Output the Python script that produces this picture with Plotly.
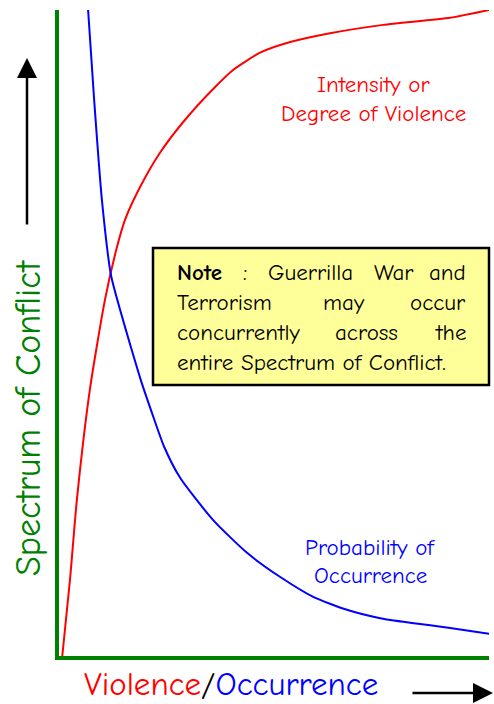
import plotly.graph_objects as go

# ---- data (axis units 0-100) ----
intensity_x = [1.2, 3.0, 4.6, 7.6, 11.1, 13.7, 15.7, 19.2, 23.8, 29.6, 36.6, 40.7, 47.0, 53.2, 63.2, 75.5, 91.0, 100.0]
intensity_y = [0.0, 11.9, 24.3, 41.3, 55.2, 62.9, 67.5, 72.6, 77.9, 83.0, 88.1, 90.7, 93.4, 94.9, 96.4, 97.7, 98.8, 100.0]

probability_x = [7.2, 8.6, 10.4, 12.5, 14.8, 17.1, 19.4, 22.0, 24.8, 28.5, 36.1, 44.0, 51.6, 59.3, 67.1, 74.8, 81.7, 91.0, 100.0]
probability_y = [100.0, 86.1, 70.6, 59.0, 53.2, 47.9, 42.8, 37.7, 32.5, 27.7, 21.2, 16.1, 12.4, 9.3, 7.3, 6.0, 5.3, 4.5, 3.6]

intensity_label = ["Intensity or", "Degree of Violence"]
probability_label = ["Probability of", "Occurrence"]
y_title = "Spectrum of Conflict"
note_lines = [
    ["<b>Note</b>", ":", "Guerrilla", "War", "and"],
    ["Terrorism", "may", "occur"],
    ["concurrently", "across", "the"],
    ["entire Spectrum of Conflict."],
]

W, H = 494, 704
PLOT_L, PLOT_R, PLOT_T, PLOT_B = 57, 489, 10, 657   # pixels of the plot area
L, R, T, B = PLOT_L, W - PLOT_R, PLOT_T, H - PLOT_B
PW, PH = PLOT_R - PLOT_L, PLOT_B - PLOT_T

FONT = "Comic Sans MS, Comic Neue, Noto Sans, sans-serif"
GREEN = "#008000"


def px(x):
    return (x - PLOT_L) / PW


def py(y):
    return (PLOT_B - y) / PH


def base(y, size):
    # bottom of the text box for a given baseline
    return py(y + 0.33 * size)


fig = go.Figure()
fig.add_trace(go.Scatter(x=intensity_x, y=intensity_y, mode="lines",
                         line=dict(color="#FF0000", width=2, shape="spline", smoothing=0.6),
                         hoverinfo="skip", cliponaxis=False))
fig.add_trace(go.Scatter(x=probability_x, y=probability_y, mode="lines",
                         line=dict(color="#0000FF", width=2, shape="spline", smoothing=0.6),
                         hoverinfo="skip", cliponaxis=False))

ann = []
LBL = 23
for t, bl in zip(intensity_label, [92, 121]):
    ann.append(dict(x=px(373), y=base(bl, LBL), xref="paper", yref="paper", text=t,
                    showarrow=False, xanchor="center", yanchor="bottom",
                    font=dict(family=FONT, size=LBL, color="#FF0000")))
for t, bl in zip(probability_label, [555, 583]):
    ann.append(dict(x=px(370), y=base(bl, LBL), xref="paper", yref="paper", text=t,
                    showarrow=False, xanchor="center", yanchor="bottom",
                    font=dict(family=FONT, size=LBL, color="#0000FF")))

# axis titles
ann.append(dict(x=px(29), y=py(418), xref="paper", yref="paper", text=y_title,
                showarrow=False, textangle=-90, xanchor="center", yanchor="middle",
                font=dict(family=FONT, size=36, color=GREEN)))
XT = 33
ann.append(dict(x=px(83), y=py(704), xref="paper", yref="paper",
                text='<span style="color:#FF0000">Violence</span>'
                     '<span style="color:#000000">/</span>'
                     '<span style="color:#0000FF">Occurrence</span>',
                showarrow=False, xanchor="left", yanchor="bottom", borderpad=0,
                font=dict(family=FONT, size=XT, color="#000000")))

# arrows
ann.append(dict(x=px(27), y=py(58), xref="paper", yref="paper", text="",
                showarrow=True, ax=0, ay=168, arrowhead=2, arrowsize=1.6,
                arrowwidth=2.5, arrowcolor="#000000"))
ann.append(dict(x=px(493), y=py(693), xref="paper", yref="paper", text="",
                showarrow=True, ax=-82, ay=0, arrowhead=2, arrowsize=1.6,
                arrowwidth=2.5, arrowcolor="#000000"))

# note text (justified by hand)
NT = 23
note_font = dict(family=FONT, size=NT, color="#000000")
line_pos = [
    [(175, "left"), (245, "center"), (310, "center"), (394, "center"), (468, "right")],
    [(175, "left"), (344, "center"), (468, "right")],
    [(175, "left"), (366, "center"), (468, "right")],
    [(175, "left")],
]
for li, (words, pos) in enumerate(zip(note_lines, line_pos)):
    bl = 280 + 30 * li
    for w, (xp, anc) in zip(words, pos):
        ann.append(dict(x=px(xp), y=base(bl, NT), xref="paper", yref="paper", text=w,
                        showarrow=False, xanchor=anc, yanchor="bottom", font=note_font))

shapes = [
    dict(type="rect", xref="paper", yref="paper", x0=px(153), x1=px(489), y0=py(385), y1=py(248),
         fillcolor="#FFFF99", line=dict(color="#000000", width=2.5), layer="below"),
    # green axes
    dict(type="line", xref="paper", yref="paper", x0=px(57), x1=px(57), y0=py(660), y1=py(10),
         line=dict(color=GREEN, width=4), layer="above"),
    dict(type="line", xref="paper", yref="paper", x0=px(55), x1=px(489), y0=py(658), y1=py(658),
         line=dict(color=GREEN, width=4), layer="above"),
]

fig.update_layout(
    width=W, height=H,
    margin=dict(l=L, r=R, t=T, b=B),
    paper_bgcolor="white", plot_bgcolor="white",
    showlegend=False,
    annotations=ann, shapes=shapes,
    xaxis=dict(range=[0, 100], showgrid=False, zeroline=False, showticklabels=False,
               ticks="", showline=False, fixedrange=True),
    yaxis=dict(range=[0, 100], showgrid=False, zeroline=False, showticklabels=False,
               ticks="", showline=False, fixedrange=True),
)

# remove the browser's default 8px page margin so the figure fills the window
fig.write_html("out.html", config={"displayModeBar": False},
               post_script="document.body.style.margin='0';document.body.style.overflow='hidden';")
